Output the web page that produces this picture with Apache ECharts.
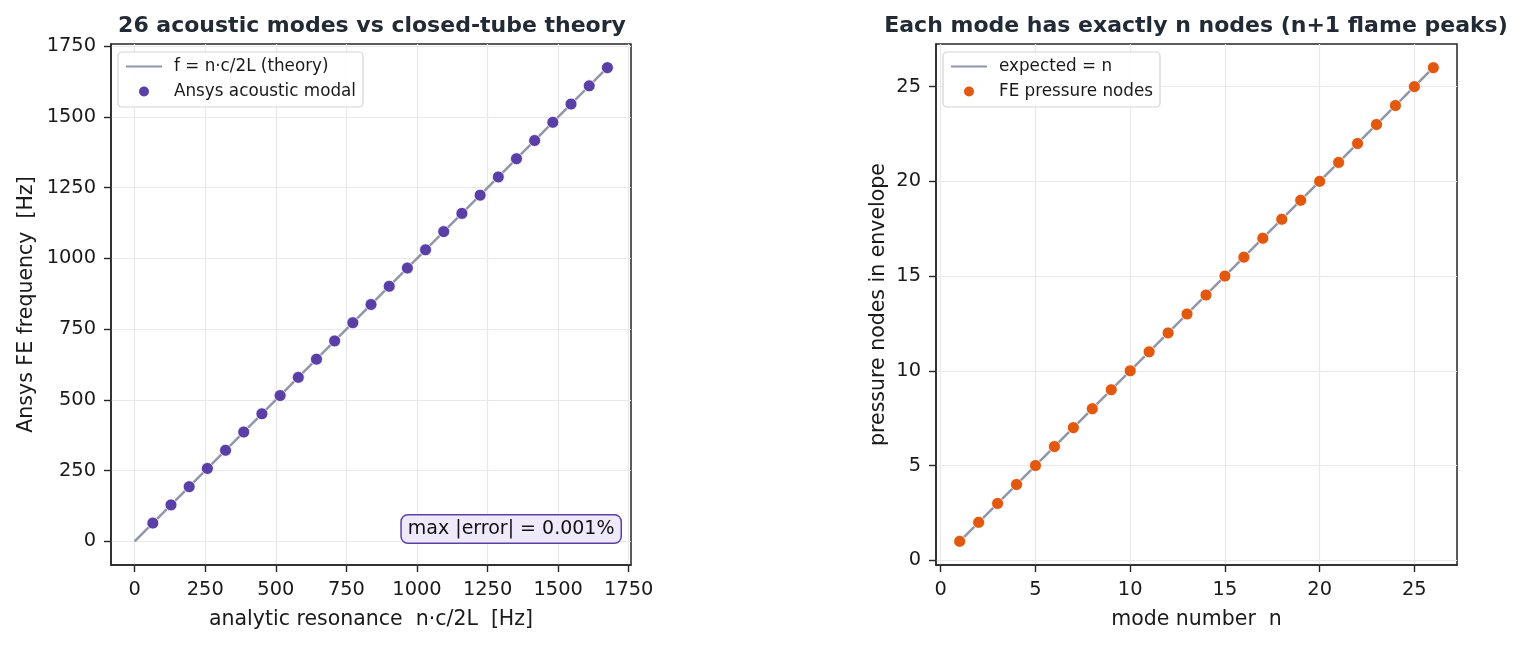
<!DOCTYPE html>
<html>
<head>
<meta charset="utf-8">
<script src="https://cdn.jsdelivr.net/npm/echarts@6/dist/echarts.min.js"></script>
<style>
  html, body { margin: 0; padding: 0; background: #fff; }
  #main { width: 1525px; height: 645px; }
</style>
</head>
<body>
<div id="main"></div>
<script>
// mode numbers
const modeN = [1, 2, 3, 4, 5, 6, 7, 8, 9, 10, 11, 12, 13, 14, 15, 16, 17, 18, 19, 20, 21, 22, 23, 24, 25, 26];
// analytic resonance n*c/2L [Hz]
const analyticHz = [64.4, 128.8, 193.2, 257.6, 322.0, 386.4, 450.8, 515.2, 579.6, 644.0, 708.4, 772.8, 837.2,
  901.6, 966.0, 1030.4, 1094.8, 1159.2, 1223.6, 1288.0, 1352.4, 1416.8, 1481.2, 1545.6, 1610.0, 1674.4];
// Ansys FE frequency [Hz]
const feHz = [64.4, 128.8, 193.2, 257.6, 322.0, 386.4, 450.8, 515.2, 579.6, 644.0, 708.4, 772.8, 837.2,
  901.6, 966.0, 1030.4, 1094.8, 1159.2, 1223.6, 1288.0, 1352.4, 1416.8, 1481.2, 1545.6, 1610.0, 1674.4];
// FE pressure nodes counted in envelope
const feNodes = [1, 2, 3, 4, 5, 6, 7, 8, 9, 10, 11, 12, 13, 14, 15, 16, 17, 18, 19, 20, 21, 22, 23, 24, 25, 26];
// theory line end points
const theoryLine = [0, 1674.4];
const expectedLine = [1, 26];
// tick labels
const freqTicks = [0, 250, 500, 750, 1000, 1250, 1500, 1750];
const modeTicks = [0, 5, 10, 15, 20, 25];

const PURPLE = '#5a3fa6';
const ORANGE = '#e2580e';
const LINE = '#8f96a8';
const INK = '#1a1a1a';
const FONT = 'DejaVu Sans';

const chart = echarts.init(document.getElementById('main'));

function axisCommon(ticks, min, max) {
  return {
    type: 'value',
    min: min,
    max: max,
    axisLine: { show: true, onZero: false, lineStyle: { color: '#262626', width: 1.5 } },
    axisTick: { show: true, customValues: ticks, length: 7, lineStyle: { color: '#262626', width: 1.4 } },
    axisLabel: {
      customValues: ticks, color: INK, fontSize: 19.4, fontFamily: FONT, margin: 15,
      formatter: v => String(v)
    },
    splitLine: { show: true, lineStyle: { color: '#e9e9e9', width: 1.2 } },
    nameLocation: 'middle',
    nameTextStyle: { color: INK, fontSize: 20.5, fontFamily: FONT }
  };
}

function legendBox(left, names) {
  return {
    left: left, top: 52, orient: 'vertical', itemGap: 6, itemWidth: 36, itemHeight: 12,
    padding: [5, 7, 6, 7],
    backgroundColor: 'rgba(255,255,255,0.85)', borderColor: '#d4d4d4', borderWidth: 1.2, borderRadius: 4,
    textStyle: { fontSize: 16.8, lineHeight: 19, color: INK, fontFamily: FONT, padding: [0, 0, 0, 7] },
    data: [{ name: names[0], itemStyle: { opacity: 0 } }, names[1]]
  };
}

const titleStyle = { fontSize: 22, fontWeight: 'bold', color: '#222a35', fontFamily: FONT };

const option = {
  animation: false,
  backgroundColor: '#fff',
  textStyle: { fontFamily: FONT },
  title: [
    { text: '26 acoustic modes vs closed-tube theory', left: 367, top: 10, textAlign: 'center', textStyle: titleStyle },
    { text: 'Each mode has exactly n nodes (n+1 flame peaks)', left: 1191, top: 10, textAlign: 'center', textStyle: titleStyle }
  ],
  grid: [
    { left: 111, right: 894, top: 44, bottom: 80, show: true, borderColor: '#262626', borderWidth: 1.5, backgroundColor: 'transparent' },
    { left: 936, right: 68, top: 44, bottom: 80, show: true, borderColor: '#262626', borderWidth: 1.5, backgroundColor: 'transparent' }
  ],
  xAxis: [
    Object.assign(axisCommon(freqTicks, -83.7, 1758), { gridIndex: 0, name: 'analytic resonance  n·c/2L  [Hz]', nameGap: 44 }),
    Object.assign(axisCommon(modeTicks, -0.25, 27.25), { gridIndex: 1, name: 'mode number  n', nameGap: 44 })
  ],
  yAxis: [
    Object.assign(axisCommon(freqTicks, -83.7, 1758), { gridIndex: 0, name: 'Ansys FE frequency  [Hz]', nameGap: 74 }),
    Object.assign(axisCommon(modeTicks, -0.25, 27.25), { gridIndex: 1, name: 'pressure nodes in envelope', nameGap: 47 })
  ],
  legend: [
    legendBox(118, ['f = n·c/2L (theory)', 'Ansys acoustic modal']),
    legendBox(943, ['expected = n', 'FE pressure nodes'])
  ],
  graphic: [
    {
      type: 'text',
      right: 1525 - 622, top: 514,
      z: 100,
      style: {
        text: 'max |error| = 0.001%',
        fontSize: 19, fontFamily: FONT, fill: '#111',
        backgroundColor: '#efeafb', borderColor: PURPLE, borderWidth: 1.5, borderRadius: 6,
        padding: [4, 6, 4, 6]
      }
    }
  ],
  series: [
    {
      name: 'f = n·c/2L (theory)', type: 'line', xAxisIndex: 0, yAxisIndex: 0,
      symbol: 'none', lineStyle: { color: LINE, width: 2.5 }, itemStyle: { color: LINE },
      data: theoryLine.map(v => [v, v]), z: 2
    },
    {
      name: 'Ansys acoustic modal', type: 'scatter', xAxisIndex: 0, yAxisIndex: 0,
      symbolSize: 12, itemStyle: { color: PURPLE, borderColor: '#fff', borderWidth: 0.8, opacity: 1 },
      data: analyticHz.map((x, i) => [x, feHz[i]]), z: 3
    },
    {
      name: 'expected = n', type: 'line', xAxisIndex: 1, yAxisIndex: 1,
      symbol: 'none', lineStyle: { color: LINE, width: 2.5 }, itemStyle: { color: LINE },
      data: expectedLine.map(v => [v, v]), z: 2
    },
    {
      name: 'FE pressure nodes', type: 'scatter', xAxisIndex: 1, yAxisIndex: 1,
      symbolSize: 12, itemStyle: { color: ORANGE, borderColor: '#fff', borderWidth: 0.8, opacity: 1 },
      data: modeN.map((n, i) => [n, feNodes[i]]), z: 3
    }
  ]
};

chart.setOption(option);
</script>
</body>
</html>
